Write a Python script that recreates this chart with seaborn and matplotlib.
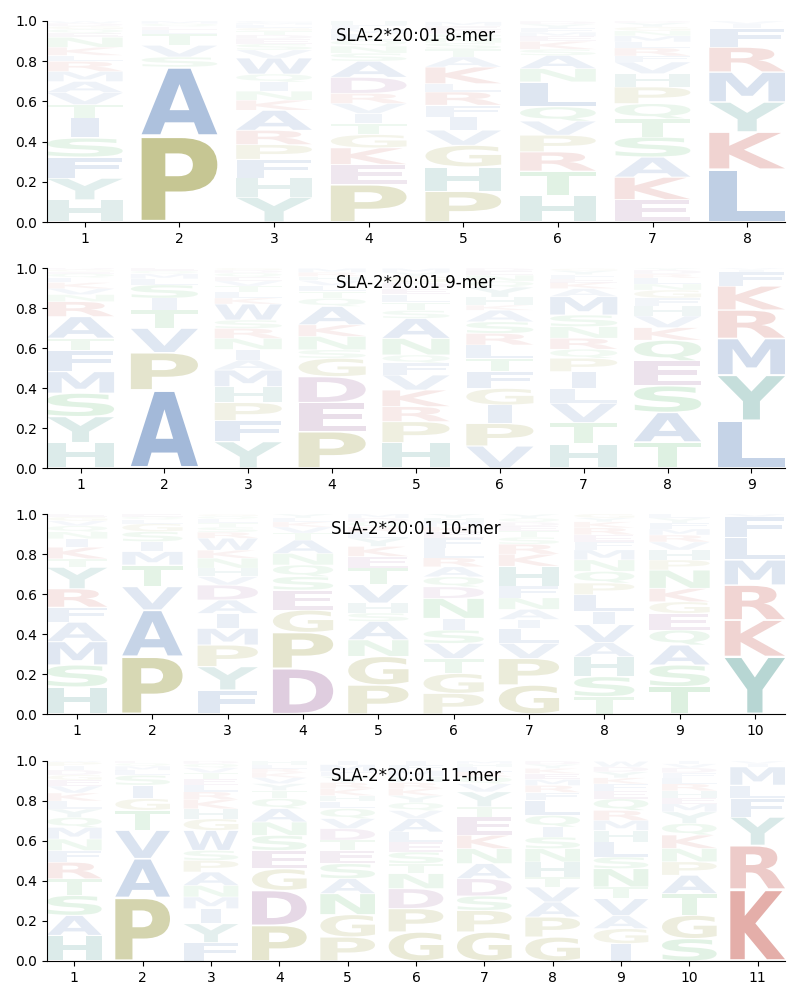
import matplotlib
matplotlib.use("Agg")
import matplotlib.pyplot as plt
import seaborn as sns
from matplotlib.textpath import TextPath
from matplotlib.patches import PathPatch
from matplotlib.font_manager import FontProperties
from matplotlib.transforms import Affine2D

sns.set_style("ticks", rc={"axes.edgecolor": "black", "xtick.color": "black",
                           "ytick.color": "black", "text.color": "black",
                           "axes.labelcolor": "black"})
plt.rcParams['font.family'] = ['DejaVu Sans']

titles = ["SLA-2*20:01 8-mer", "SLA-2*20:01 9-mer",
          "SLA-2*20:01 10-mer", "SLA-2*20:01 11-mer"]

# letters listed bottom -> top for each position, with their frequencies
mer8_letters = ["HYFSITVAMRLKNEQGDW", "PASVTLEQM", "YHFPRAKNIQWVSEDTGLMC",
                "PEKGTIVRDASNQLMFH", "PHGVIFRLKATSNQDEM", "HTRPVQLNASKEMFYD",
                "EKASTQPHVFRLMNGYD", "LKYMRFIV"]
mer8_values = [
    [.11, .108, .105, .095, .10, .066, .06, .055, .05, .05, .03, .04, .05, .02, .02, .015, .015, .01],
    [.428, .343, .05, .058, .058, .02, .015, .015, .013],
    [.124, .095, .093, .073, .071, .10, .05, .045, .045, .04, .08, .04, .03, .025, .02, .02, .015, .015, .01, .01],
    [.186, .10, .083, .066, .055, .05, .05, .05, .08, .08, .04, .035, .03, .03, .025, .02, .02],
    [.153, .121, .108, .075, .066, .058, .066, .041, .083, .05, .04, .03, .025, .02, .02, .02, .02],
    [.133, .12, .096, .083, .07, .071, .124, .066, .066, .03, .04, .025, .02, .02, .02, .015],
    [.111, .112, .1, .1, .091, .075, .083, .066, .058, .03, .04, .03, .03, .025, .02, .02, .01],
    [.262, .186, .149, .149, .124, .095, .02, .015],
]

mer9_letters = ["HYSMFTARNVKLQEGD", "APVTISLMQE", "YFPHMAINRSWKLTVEQDG",
                "PEDGSNKAQTLVHRM", "HPRKVFQNASTLEDGYM", "VPIGFTLRSAKHYQNED",
                "HTVLIPQRNSMAKEFYG", "TASEQKVHFGNLRDY", "LYMRKFIV"]
mer9_values = [
    [.127, .13, .117, .108, .105, .062, .108, .075, .035, .03, .03, .025, .02, .01, .01, .01],
    [.39, .187, .122, .092, .058, .067, .03, .025, .015, .015],
    [.132, .105, .09, .08, .083, .05, .053, .055, .05, .042, .08, .03, .03, .03, .025, .02, .02, .015, .01],
    [.182, .145, .13, .092, .042, .067, .058, .092, .04, .035, .03, .025, .02, .02, .02],
    [.127, .105, .075, .083, .075, .06, .04, .083, .1, .04, .04, .04, .03, .03, .03, .02, .02],
    [.11, .113, .092, .083, .083, .067, .067, .058, .058, .058, .025, .04, .05, .03, .03, .02, .015],
    [.12, .107, .097, .075, .083, .067, .045, .055, .058, .058, .092, .04, .03, .02, .02, .02, .01],
    [.13, .148, .133, .125, .103, .063, .058, .05, .04, .04, .03, .03, .02, .02, .01],
    [.237, .228, .183, .142, .12, .072, .01, .008],
]

mer10_letters = ["HSMAFRYTKINQVGE", "PAVTMISGLQE", "FYPMIADVHNKWRSTLQG",
                 "DPGESQNATVKLY", "PGNASHVTEKYLRQDM", "PGTVSINDQARLFEKMHY",
                 "GPVLIANFHKRSTEDQY", "TSHAVILPQNMFERKYG", "TSAQEGKNPHVRMFYL",
                 "YKRMLFV"]
mer10_values = [
    [.135, .11, .117, .097, .075, .092, .108, .042, .058, .042, .035, .03, .025, .02, .015],
    [.287, .233, .117, .108, .067, .05, .05, .04, .02, .015, .013],
    [.12, .117, .108, .083, .075, .067, .075, .042, .042, .05, .04, .06, .03, .025, .02, .02, .015, .01],
    [.228, .18, .112, .1, .067, .058, .058, .067, .035, .03, .025, .02, .02],
    [.145, .143, .083, .092, .042, .05, .092, .083, .058, .05, .042, .03, .025, .025, .02, .02],
    [.103, .1, .075, .075, .067, .058, .1, .058, .05, .05, .045, .05, .05, .03, .025, .025, .02, .02],
    [.145, .133, .075, .075, .045, .05, .058, .058, .1, .06, .05, .035, .03, .025, .02, .02, .02],
    [.087, .1, .1, .07, .09, .067, .083, .058, .058, .058, .05, .04, .035, .035, .03, .02, .02],
    [.137, .108, .1, .075, .083, .058, .067, .092, .05, .05, .04, .035, .03, .03, .025, .02],
    [.287, .183, .175, .125, .112, .105, .013],
]

mer11_letters = ["HASTRFNMQYLKVEGDIPW", "PAVTGISLMQE", "FYIMNAPSWGHKRLETVQD",
                 "PDGESNAQTYVKRLH", "PGNASETDVQLHKRYFMI", "GPDNTSELAVQYKRHMFI",
                 "GPSDANKETYVQRLHM", "GPAVTHNSIQLFRMEKYD", "IGAVTNSLHMRQEFKYDW",
                 "SGTAPNKQYMEHRLFDVI", "KRYFLMIV"]
mer11_values = [
    [.128, .1, .1, .083, .083, .058, .058, .058, .05, .042, .04, .04, .035, .03, .025, .025, .02, .02, .005],
    [.317, .195, .142, .1, .058, .067, .05, .025, .02, .015, .011],
    [.092, .095, .075, .058, .058, .067, .058, .05, .1, .058, .05, .045, .04, .035, .03, .03, .025, .02, .015],
    [.178, .175, .108, .092, .075, .067, .067, .05, .04, .035, .03, .025, .02, .02, .018],
    [.12, .112, .105, .075, .075, .067, .05, .058, .05, .05, .035, .03, .035, .03, .03, .025, .035, .018],
    [.145, .117, .1, .075, .05, .058, .05, .05, .067, .04, .04, .035, .035, .03, .03, .03, .028, .02],
    [.145, .108, .072, .087, .075, .075, .067, .092, .05, .075, .04, .035, .025, .025, .015, .014],
    [.12, .1, .075, .075, .05, .075, .067, .058, .05, .058, .075, .04, .035, .03, .03, .025, .02, .017],
    [.087, .075, .065, .085, .058, .092, .058, .075, .058, .05, .05, .058, .04, .035, .03, .03, .025, .027],
    [.112, .117, .108, .092, .067, .067, .067, .058, .058, .04, .03, .035, .035, .03, .025, .025, .02, .015],
    [.358, .22, .142, .092, .067, .092, .015, .014],
]

panels = [(mer8_letters, mer8_values), (mer9_letters, mer9_values),
          (mer10_letters, mer10_values), (mer11_letters, mer11_values)]

# colour classes
class_colors = {
    "blue": (50 / 255, 100 / 255, 170 / 255),
    "red": (190 / 255, 60 / 255, 50 / 255),
    "purple": (138 / 255, 72 / 255, 138 / 255),
    "green": (60 / 255, 170 / 255, 80 / 255),
    "teal": (43 / 255, 134 / 255, 125 / 255),
    "olive": (139 / 255, 140 / 255, 35 / 255),
}
letter_class = {}
for c in "ACFILMVW":
    letter_class[c] = "blue"
for c in "KR":
    letter_class[c] = "red"
for c in "DE":
    letter_class[c] = "purple"
for c in "STNQ":
    letter_class[c] = "green"
for c in "HY":
    letter_class[c] = "teal"
for c in "PG":
    letter_class[c] = "olive"

FP = FontProperties(family="DejaVu Sans", weight="bold")
_cache = {}


def get_path(ch):
    if ch not in _cache:
        _cache[ch] = TextPath((0, 0), ch, size=1, prop=FP)
    return _cache[ch]


E_WIDTH = get_path("E").get_extents().width
COL_W = 0.8
VPAD = 0.05


def draw_letter(ax, ch, x, y0, h):
    tp = get_path(ch)
    ext = tp.get_extents()
    sx = COL_W / max(ext.width, E_WIDTH)
    sy = h * (1 - VPAD) / ext.height
    cw = ext.width * sx
    tx = x - cw / 2 - ext.x0 * sx
    ty = y0 + h * VPAD / 2 - ext.y0 * sy
    path = Affine2D().scale(sx, sy).translate(tx, ty).transform_path(tp)
    color = class_colors[letter_class[ch]]
    alpha = min(1.0, 0.02 + 1.1 * h)
    ax.add_patch(PathPatch(path, facecolor=color, edgecolor="none", alpha=alpha))


fig = plt.figure(figsize=(8, 10), dpi=100)
rows = [(21, 222), (268, 468), (514, 714), (761, 961)]
for i, ((letters, values), (top, bot)) in enumerate(zip(panels, rows)):
    ax = fig.add_axes([47 / 800, 1 - bot / 1000, (785 - 47) / 800, (bot - top) / 1000])
    n = len(letters)
    for p, (lets, vals) in enumerate(zip(letters, values)):
        y = 0.0
        for ch, v in zip(lets, vals):
            draw_letter(ax, ch, p + 1, y, v)
            y += v
    ax.set_xlim(0.6, n + 0.4)
    ax.set_ylim(0, 1)
    ax.set_xticks(range(1, n + 1))
    ax.set_yticks([0, 0.2, 0.4, 0.6, 0.8, 1.0])
    ax.tick_params(labelsize=10)
    ax.text(0.5, 0.925, titles[i], transform=ax.transAxes, ha="center",
            va="center", fontsize=12)
    sns.despine(ax=ax)

fig.savefig("out.png", dpi=100)
